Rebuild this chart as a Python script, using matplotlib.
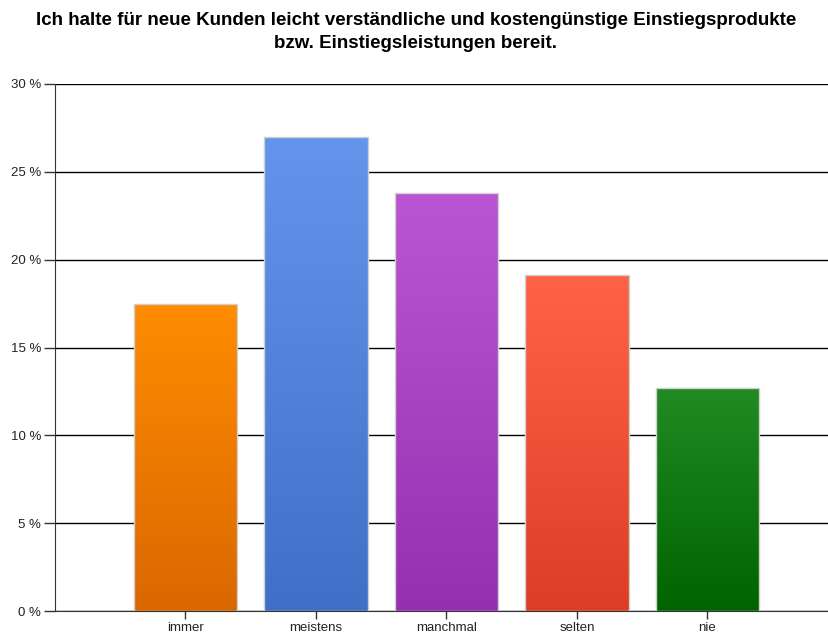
import matplotlib.pyplot as plt
import numpy as np
from matplotlib.colors import LinearSegmentedColormap

plt.rcParams['font.family'] = ['Liberation Sans', 'DejaVu Sans']

# Data
categories = ["immer", "meistens", "manchmal", "selten", "nie"]
values = [17.5, 27.0, 23.8, 19.1, 12.7]
top_colors = ["#FF8C00", "#6495ED", "#BA55D3", "#FF6347", "#228B22"]
bottom_colors = ["#DA6800", "#3F6FC6", "#9530B0", "#DB3E25", "#006400"]
yticks = [0, 5, 10, 15, 20, 25, 30]

fig = plt.figure(figsize=(8.29, 6.34), dpi=100)
ax = fig.add_axes([55/829, 23/634, 774/829, 527/634])

x = np.arange(1, len(categories) + 1)
bars = ax.bar(x, values, width=0.79, color="none", edgecolor="#D0D0D0",
              linewidth=1.0, zorder=3)

# gradient fill, top lighter -> bottom darker
grad = np.linspace(0, 1, 256).reshape(-1, 1)
for bar, c_top, c_bot in zip(bars, top_colors, bottom_colors):
    cmap = LinearSegmentedColormap.from_list("g", [c_bot, c_top])
    x0, y0 = bar.get_x(), bar.get_y()
    w, h = bar.get_width(), bar.get_height()
    im = ax.imshow(grad, cmap=cmap, aspect="auto", origin="lower",
                   extent=[x0, x0 + w, y0, y0 + h], zorder=2)
    im.set_clip_path(bar)

ax.set_xlim(0, 774/130.5)
ax.set_ylim(0, 30)
ax.set_yticks(yticks)
ax.set_yticklabels([f"{t} %" for t in yticks])
ax.set_xticks(x)
ax.set_xticklabels(categories)

ax.grid(axis="y", color="black", linewidth=1.0, zorder=1)
for s in ["top", "right"]:
    ax.spines[s].set_visible(False)
ax.spines["left"].set_color("#333333")
ax.spines["bottom"].set_color("#333333")
ax.tick_params(axis="y", length=8, width=1, color="#333333",
               labelsize=9.5, labelcolor="#222222", pad=2)
ax.tick_params(axis="x", length=6, width=1, color="#333333",
               labelsize=9.5, labelcolor="#222222", pad=2)

fig.text(416/829, 1 - 32/634,
         "Ich halte für neue Kunden leicht verständliche und kostengünstige Einstiegsprodukte\n"
         "bzw. Einstiegsleistungen bereit.",
         ha="center", va="center", fontsize=13.5, fontweight="bold",
         linespacing=1.5)

fig.savefig("out.png", dpi=100)
